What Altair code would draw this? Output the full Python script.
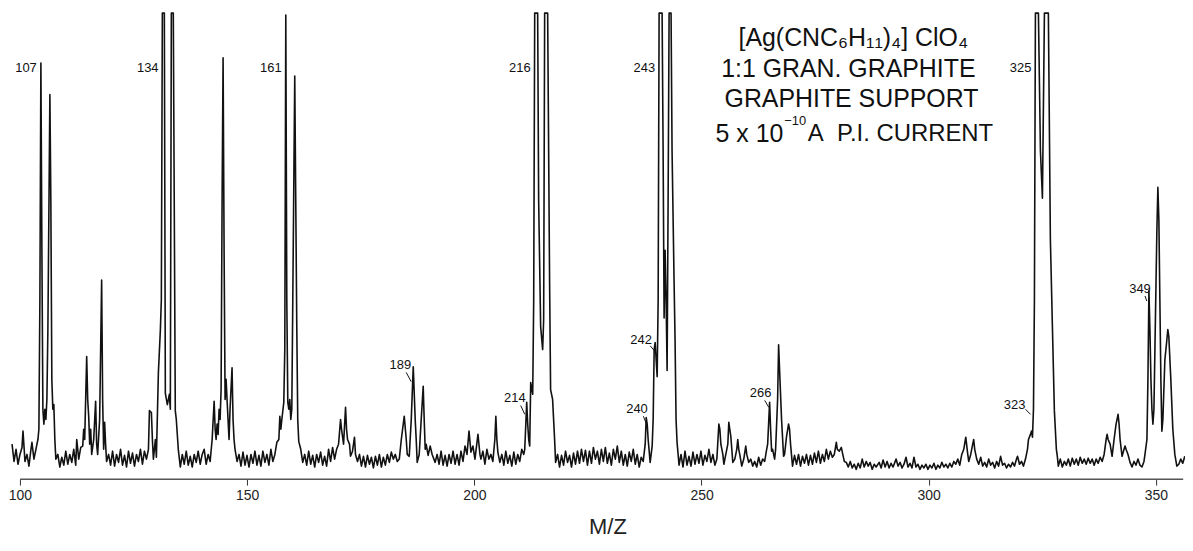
import altair as alt
import pandas as pd

# ---- spectrum trace (m/z, relative pen deflection 0-100; 100 = pen limit) ----
seg_100 = [(98.25, 7.5), (98.69, 3.8), (99.13, 6.4), (99.56, 3.2), (100.00, 5.3), (100.44, 6.8),
           (100.66, 10.3), (101.10, 3.8), (101.54, 5.3), (101.97, 2.8), (102.41, 6.4), (102.63, 7.9),
           (103.07, 4.3), (103.51, 6.4), (103.73, 7.5), (103.95, 8.5), (104.16, 10.7), (104.38, 38.5),
           (104.60, 89.3), (104.82, 49.1), (105.04, 15.0), (105.26, 11.8), (105.48, 15.0), (105.70, 12.8),
           (105.92, 17.1), (106.14, 32.1), (106.58, 82.5), (106.79, 59.8), (107.01, 21.4), (107.23, 15.0),
           (107.45, 16.0), (107.67, 8.5), (107.89, 4.3)]
seg_108 = [(108.33, 5.3), (108.77, 2.6), (109.20, 4.7), (109.64, 3.0), (110.08, 6.0), (110.52, 3.2),
           (110.96, 5.3), (111.40, 3.6), (111.83, 6.4), (112.27, 3.0), (112.49, 8.5), (112.93, 4.3),
           (113.37, 6.8), (113.81, 7.1), (114.02, 10.7), (114.24, 8.5), (114.68, 26.3), (114.90, 17.1),
           (115.12, 13.5), (115.34, 7.5), (115.56, 10.7), (115.78, 5.3), (116.22, 8.5), (116.65, 16.7),
           (116.87, 7.5), (117.09, 5.3), (117.53, 12.8), (117.97, 42.7), (118.19, 17.1), (118.41, 6.4),
           (118.63, 12.2), (118.84, 7.5), (119.06, 3.8)]
seg_119 = [(119.50, 5.3), (119.94, 3.0), (120.38, 6.0), (120.82, 2.8), (121.25, 5.3), (121.69, 3.6),
           (122.13, 6.4), (122.57, 3.0), (123.01, 5.1), (123.45, 2.6), (123.88, 6.0), (124.32, 3.4),
           (124.76, 5.6), (125.20, 2.8), (125.64, 5.3), (126.07, 3.8), (126.51, 6.4), (126.95, 3.2),
           (127.39, 6.0), (127.83, 4.3), (128.27, 6.4), (128.49, 14.7), (128.92, 14.3), (129.14, 8.5),
           (129.36, 4.3), (129.80, 8.5), (130.02, 4.7), (130.46, 22.9), (130.90, 32.1), (131.11, 38.5),
           (131.33, 100), (131.77, 100), (131.99, 18.4), (132.43, 16.0), (132.87, 18.2), (133.09, 15.0),
           (133.31, 100), (133.74, 100), (134.18, 14.7), (134.40, 12.8), (134.84, 6.4), (135.28, 2.6)]
seg_135 = [(135.72, 5.3), (136.15, 3.2), (136.59, 6.0), (137.03, 3.0), (137.47, 4.9), (137.91, 2.6),
           (138.34, 5.3), (138.78, 3.6), (139.22, 6.0), (139.66, 3.2), (140.10, 5.3), (140.54, 6.4),
           (140.97, 3.2), (141.41, 5.3), (141.85, 3.8), (142.29, 8.5), (142.73, 16.7), (142.95, 10.7),
           (143.16, 8.5), (143.38, 11.8), (143.60, 9.6), (143.82, 15.0), (144.04, 12.8), (144.26, 19.2),
           (144.48, 59.8), (144.70, 90.4), (144.92, 49.1), (145.14, 17.1), (145.36, 21.4), (145.57, 17.1),
           (145.79, 12.8), (146.01, 8.5), (146.23, 15.0), (146.67, 23.9), (146.89, 12.8), (147.11, 8.5),
           (147.33, 6.4), (147.77, 3.8)]
seg_148 = [(148.20, 5.3), (148.64, 2.8), (149.08, 5.8), (149.52, 3.0), (149.96, 5.1), (150.40, 2.6),
           (150.83, 5.3), (151.27, 3.4), (151.71, 6.0), (152.15, 3.0), (152.59, 5.1), (153.02, 2.8),
           (153.46, 6.0), (153.90, 3.6), (154.34, 5.3), (154.78, 3.0), (155.22, 6.4), (155.65, 3.8),
           (156.09, 5.3), (156.53, 7.9), (156.97, 8.5), (157.19, 13.5), (157.41, 10.7), (157.63, 12.8),
           (158.06, 16.5), (158.28, 27.8), (158.50, 99.6), (158.72, 38.5), (158.94, 16.5), (159.16, 15.0),
           (159.38, 17.1), (159.60, 12.8), (159.82, 15.0), (160.04, 38.5), (160.47, 86.5), (160.69, 59.8),
           (160.91, 33.5), (161.13, 12.8), (161.35, 8.1), (161.79, 6.4), (162.23, 3.6)]
seg_162 = [(162.66, 5.3), (163.10, 3.0), (163.54, 6.0), (163.98, 3.2), (164.42, 5.1), (164.86, 2.6),
           (165.29, 5.3), (165.73, 3.6), (166.17, 5.8), (166.61, 3.0), (167.05, 4.9), (167.48, 2.8),
           (167.92, 6.4), (168.36, 3.8), (168.80, 6.8), (169.24, 4.3), (169.68, 6.4), (170.11, 7.5),
           (170.55, 12.8), (170.77, 10.7), (171.21, 7.5), (171.65, 15.4), (171.87, 10.7), (172.09, 8.5),
           (172.52, 7.5), (172.74, 4.9), (173.18, 6.0), (173.62, 9.0), (173.84, 5.3), (174.28, 3.8)]
seg_174 = [(174.72, 5.3), (175.15, 2.8), (175.59, 4.9), (176.03, 2.6), (176.47, 5.1), (176.91, 3.2),
           (177.34, 4.7), (177.78, 2.4), (178.22, 4.9), (178.66, 3.0), (179.10, 5.3), (179.54, 2.6),
           (179.97, 4.7), (180.41, 3.0), (180.85, 5.3), (181.29, 3.6), (181.73, 5.8), (182.16, 4.3),
           (182.60, 5.3), (183.04, 3.8), (183.48, 4.3), (183.92, 8.5), (184.57, 13.5), (185.01, 8.5),
           (185.23, 5.3), (185.67, 4.9), (186.11, 12.8), (186.55, 24.1), (186.98, 12.8), (187.20, 8.5),
           (187.42, 3.6), (187.86, 5.3), (188.30, 12.8), (188.74, 19.9), (188.96, 12.8), (189.18, 6.4),
           (189.39, 7.5), (189.83, 5.1), (190.27, 7.1), (190.71, 5.3), (191.37, 3.6)]
seg_191 = [(191.80, 5.3), (192.24, 3.2), (192.68, 6.0), (193.12, 3.0), (193.56, 5.1), (194.00, 2.8),
           (194.43, 5.3), (194.87, 3.4), (195.31, 6.0), (195.75, 3.2), (196.19, 5.3), (196.63, 3.0),
           (197.06, 6.0), (197.50, 3.8), (197.94, 7.1), (198.38, 5.3), (198.82, 10.3), (199.25, 5.8),
           (199.69, 7.1), (200.13, 4.3), (200.79, 9.6), (201.23, 5.3), (201.45, 4.3), (201.88, 6.0),
           (202.32, 3.2), (202.76, 6.4), (203.20, 4.3), (203.64, 5.3), (204.07, 3.8), (204.51, 8.5),
           (204.73, 13.5), (204.95, 8.5), (205.17, 5.8), (205.61, 3.6), (206.05, 5.3), (206.48, 3.0),
           (206.92, 6.0), (207.36, 3.4)]
seg_207 = [(207.80, 5.1), (208.24, 2.8), (208.68, 5.8), (209.11, 3.2), (209.55, 5.3), (209.99, 3.8),
           (210.43, 6.4), (210.87, 5.3), (211.09, 6.4), (211.30, 11.3), (211.52, 16.5), (211.74, 11.8),
           (211.96, 8.5), (212.18, 7.1), (212.40, 20.7), (212.84, 18.2), (213.06, 38.5), (213.28, 100),
           (213.93, 100), (214.15, 59.8), (214.59, 32.7), (215.03, 27.8), (215.25, 34.2), (215.47, 100),
           (216.13, 100), (216.56, 42.1), (216.78, 19.2), (217.22, 17.1), (217.66, 8.5), (217.88, 3.6)]
seg_218 = [(218.32, 5.3), (218.75, 2.6), (219.19, 5.1), (219.63, 3.0), (220.07, 6.0), (220.51, 3.6),
           (220.95, 5.1), (221.38, 2.6), (221.82, 5.6), (222.26, 3.2), (222.70, 6.0), (223.14, 3.4),
           (223.57, 6.4), (224.01, 3.8), (224.45, 6.2), (224.89, 3.0), (225.33, 6.0), (225.77, 3.4),
           (226.20, 6.8), (226.64, 4.3), (227.08, 6.0), (227.52, 3.2), (227.96, 6.4), (228.39, 3.8),
           (228.83, 6.8), (229.27, 3.4), (229.71, 5.6), (230.15, 3.0), (230.59, 6.4), (231.02, 4.3),
           (231.46, 7.1), (231.90, 3.6), (232.34, 6.0), (232.78, 3.0), (233.21, 5.3), (233.65, 2.8),
           (234.09, 5.8), (234.53, 3.8), (234.97, 6.4), (235.41, 3.2), (235.84, 5.3), (236.28, 2.6),
           (236.72, 4.7), (237.16, 3.8)]
seg_237 = [(237.60, 7.5), (237.82, 13.2), (238.04, 11.8), (238.25, 8.5), (238.69, 3.6), (239.13, 7.1),
           (239.35, 12.8), (239.57, 27.8), (239.79, 29.3), (240.01, 25.6), (240.23, 22.0), (240.45, 38.5),
           (240.66, 100), (241.32, 100), (241.54, 70.5), (241.76, 34.6), (241.98, 49.1), (242.20, 38.5),
           (242.42, 23.3), (242.64, 59.8), (242.86, 100), (243.29, 100), (243.51, 70.5), (243.95, 42.7),
           (244.17, 29.9), (244.39, 12.8), (244.61, 7.9), (245.05, 3.0)]
seg_245 = [(245.48, 5.3), (245.92, 2.6), (246.36, 6.0), (246.80, 3.0), (247.24, 4.9), (247.68, 2.8),
           (248.11, 5.8), (248.55, 3.2), (248.99, 5.3), (249.43, 3.4), (249.87, 6.0), (250.30, 3.0),
           (250.74, 5.1), (251.18, 3.8), (251.62, 6.4), (252.06, 3.6), (252.50, 5.3), (252.93, 3.0),
           (253.37, 4.3), (253.81, 11.8), (254.03, 10.7), (254.25, 7.5), (254.69, 5.3), (254.91, 3.2),
           (255.34, 5.3), (255.78, 7.5), (256.00, 12.2), (256.22, 10.7), (256.44, 9.2), (256.88, 3.6),
           (257.32, 4.3), (257.75, 6.4), (257.97, 8.5), (258.19, 6.4), (258.41, 5.3), (258.85, 2.8),
           (259.29, 4.3), (259.73, 7.1), (259.95, 5.3), (260.38, 3.6), (260.82, 4.3), (261.26, 2.8),
           (261.70, 3.8), (262.14, 2.6), (262.57, 4.7), (263.01, 3.0), (263.45, 4.3), (263.89, 3.8),
           (264.33, 6.4), (264.55, 7.5), (264.98, 16.5), (265.20, 10.7), (265.42, 6.0), (265.64, 6.4),
           (266.08, 4.3), (266.30, 6.4), (266.74, 17.1), (266.96, 28.8), (267.17, 23.5), (267.61, 12.8),
           (268.05, 4.9), (268.27, 5.3), (268.71, 9.2), (269.15, 11.8), (269.37, 10.7), (269.59, 7.5),
           (270.02, 2.8)]
seg_270 = [(270.46, 5.1), (270.90, 3.2), (271.34, 5.3), (271.78, 2.8), (272.21, 4.9), (272.65, 3.4),
           (273.09, 5.3), (273.53, 3.0), (273.97, 5.1), (274.41, 3.2), (274.84, 5.6), (275.28, 3.6),
           (275.72, 6.0), (276.16, 3.4), (276.60, 5.3), (277.03, 3.8), (277.47, 6.4), (277.91, 4.3),
           (278.35, 6.0), (278.79, 4.7), (279.22, 5.3), (279.66, 7.9), (279.88, 6.4), (280.32, 6.0),
           (280.76, 6.8), (280.98, 5.8), (281.42, 3.8)]
seg_281 = [(281.86, 3.6), (282.29, 2.6), (282.73, 3.8), (283.17, 2.4), (283.61, 3.2), (284.05, 2.1),
           (284.48, 3.4), (284.92, 2.4), (285.36, 4.3), (285.80, 2.6), (286.24, 3.8), (286.68, 2.8),
           (287.11, 3.6), (287.55, 2.1), (287.99, 3.2), (288.43, 2.6), (289.09, 3.6), (289.52, 2.4),
           (289.96, 4.1), (290.40, 2.6), (290.84, 3.8), (291.28, 2.4), (291.71, 3.4), (292.15, 2.6),
           (292.81, 4.3), (293.25, 2.8), (293.69, 3.6), (294.12, 2.4), (294.56, 3.2), (295.00, 4.7),
           (295.44, 2.6), (295.88, 3.4), (296.32, 2.4), (296.75, 4.7), (297.19, 2.6), (297.63, 3.2),
           (298.07, 2.1), (298.51, 3.0), (298.94, 2.4), (299.38, 3.2), (299.82, 2.1), (300.26, 3.0),
           (300.70, 2.4), (301.14, 3.4), (301.57, 2.1), (302.01, 3.0), (302.45, 2.4), (302.89, 3.6),
           (303.33, 2.6), (303.77, 3.2), (304.20, 2.4), (304.64, 3.4), (305.08, 2.6), (305.52, 3.8),
           (305.96, 3.2), (306.39, 4.3), (306.83, 3.0), (307.27, 5.3), (307.71, 6.4), (308.15, 9.0),
           (308.59, 5.3), (308.80, 3.8), (309.24, 5.3), (309.68, 7.5), (309.90, 8.5), (310.12, 6.4),
           (310.56, 4.3), (311.00, 3.2), (311.44, 4.7), (311.87, 2.8), (312.31, 3.6), (312.75, 2.6),
           (313.19, 4.3), (313.63, 3.0), (314.06, 3.6), (314.50, 2.4), (314.94, 3.8), (315.38, 2.8),
           (315.82, 4.9), (316.25, 3.0), (316.69, 3.4), (317.13, 2.4), (317.57, 3.2), (318.01, 2.6),
           (318.45, 3.6), (318.88, 2.8), (319.32, 4.3), (319.54, 4.9), (319.98, 3.2), (320.42, 3.8),
           (320.85, 2.8), (321.29, 4.3)]
seg_321 = [(321.73, 6.4), (321.95, 8.5), (322.39, 9.6), (322.61, 10.3), (322.83, 9.0), (323.05, 15.0),
           (323.26, 38.5), (323.48, 100), (324.14, 100), (324.58, 70.5), (325.02, 60.3), (325.24, 80.0),
           (325.46, 100), (326.33, 100), (326.77, 51.5), (327.21, 33.1), (327.65, 14.7), (328.09, 6.4),
           (328.30, 4.9), (328.52, 2.8)]
seg_329 = [(328.96, 4.3), (329.40, 2.6), (329.84, 3.8), (330.28, 3.0), (330.71, 4.3), (331.15, 2.8),
           (331.59, 4.5), (332.03, 3.2), (332.47, 4.3), (332.91, 3.0), (333.34, 4.7), (333.78, 3.4),
           (334.22, 4.3), (334.66, 3.2), (335.10, 4.5), (335.53, 3.4), (335.97, 4.3), (336.41, 3.0),
           (336.85, 4.3), (337.29, 3.4), (337.73, 4.7), (338.16, 3.8), (338.60, 5.3), (339.04, 8.5),
           (339.26, 9.6), (339.48, 8.5), (339.92, 7.5), (340.35, 4.9), (340.79, 8.5), (341.23, 11.8),
           (341.67, 13.9), (341.89, 11.8), (342.11, 8.5), (342.55, 4.9), (342.98, 6.4), (343.20, 7.1),
           (343.42, 6.4), (343.86, 5.3), (344.30, 3.6), (344.74, 2.6), (345.17, 3.8), (345.61, 3.0),
           (346.05, 4.3), (346.49, 3.0), (346.93, 2.6), (347.37, 3.8)]
seg_347 = [(347.59, 5.3), (348.02, 8.5), (348.24, 21.4), (348.46, 40.4), (348.68, 32.1), (348.90, 21.4),
           (349.12, 15.0), (349.34, 11.8), (349.56, 15.0), (349.78, 27.8), (350.21, 53.4), (350.43, 62.6),
           (350.65, 55.6), (350.87, 38.5), (351.09, 21.4), (351.31, 10.3), (351.53, 12.8), (351.97, 25.6),
           (352.41, 29.9), (352.62, 32.1), (352.84, 30.6), (353.28, 21.4), (353.72, 10.7), (354.16, 5.3),
           (354.60, 2.8), (355.03, 3.2), (355.47, 4.3), (355.91, 3.4), (356.35, 4.9)]

trace = (seg_100 + seg_108 + seg_119 + seg_135 + seg_148 + seg_162 + seg_174 + seg_191 +
         seg_207 + seg_218 + seg_237 + seg_245 + seg_270 + seg_281 + seg_321 + seg_329 + seg_347)
spectrum = pd.DataFrame(trace, columns=["mz", "intensity"])

# ---- axis ----
tick_values = [100, 150, 200, 250, 300, 350]
axis_start = [100.0]
axis_end = [356.0]

# ---- peak labels ----
top_labels = ["107", "134", "161", "216", "243", "325"]
top_label_mz = [103.7, 130.5, 157.6, 212.4, 239.8, 322.6]
top_label_int = [88.2, 88.2, 88.2, 88.2, 88.2, 88.2]

low_labels = ["189", "214", "240", "242", "266", "323", "349"]
low_label_mz = [183.7, 208.9, 235.8, 236.7, 263.0, 318.9, 346.5]
low_label_int = [24.4, 17.5, 15.0, 29.9, 18.4, 16.0, 40.8]

leader_mz1 = [185.0, 210.2, 237.2, 238.7, 263.9, 321.3, 347.6]
leader_mz2 = [186.1, 211.1, 237.8, 239.6, 264.8, 322.4, 348.0]
leader_int1 = [22.9, 15.8, 13.5, 28.6, 16.9, 15.0, 39.3]
leader_int2 = [20.9, 13.9, 12.0, 27.6, 15.4, 13.9, 38.2]

# ---- info block (centered lines) ----
info_lines = ["[Ag(CNC₆H₁₁)₄] ClO₄", "1:1 GRAN. GRAPHITE", "GRAPHITE SUPPORT"]
info_mz = [283.4, 282.3, 283.0]
info_int = [94.7, 88.0, 81.6]
# last line in pieces, so the exponent can be raised
cur_left_text = ["5 x 10"]
cur_left_mz = [268.0]
cur_exp_text = ["−10"]
cur_exp_mz = [268.2]
cur_exp_int = [76.8]
cur_right_text = ["A\u00a0\u00a0P.I. CURRENT"]
cur_right_mz = [273.4]
cur_int = [74.0]

FONT = "Liberation Sans"
xscale = alt.Scale(domain=[97.8, 356.4], nice=False, zero=False)
yscale = alt.Scale(domain=[0, 100], nice=False, zero=False)
x_axis = alt.Axis(values=tick_values, domain=False, grid=False, ticks=True, tickSize=6,
                  tickColor="#333333", tickWidth=1, labelFontSize=14, labelFont=FONT,
                  labelColor="#222222", labelPadding=3, title="M/Z", titleFont=FONT,
                  titleFontSize=22, titleFontWeight="normal", titleColor="#222222",
                  titleX=600, titleY=55, titleBaseline="alphabetic", titleAlign="center")


def X(field):
    return alt.X(field, scale=xscale, axis=x_axis, title="M/Z")


def Y(field):
    return alt.Y(field, scale=yscale, axis=None)


line = alt.Chart(spectrum).mark_line(color="#111111", strokeWidth=1.6, strokeJoin="round").encode(
    x=X("mz:Q"), y=Y("intensity:Q"))

axis_rule = alt.Chart(pd.DataFrame({"mz": axis_start, "b": axis_end, "intensity": [0.0]})).mark_rule(
    color="#555555", strokeWidth=1.5).encode(x=X("mz:Q"), x2="b:Q", y=Y("intensity:Q"))

top_text = alt.Chart(pd.DataFrame({"t": top_labels, "mz": top_label_mz, "intensity": top_label_int})).mark_text(
    align="right", baseline="middle", font=FONT, fontSize=13, color="#111111").encode(
    x=X("mz:Q"), y=Y("intensity:Q"), text="t:N")

low_text = alt.Chart(pd.DataFrame({"t": low_labels, "mz": low_label_mz, "intensity": low_label_int})).mark_text(
    align="center", baseline="middle", font=FONT, fontSize=13, color="#111111").encode(
    x=X("mz:Q"), y=Y("intensity:Q"), text="t:N")

leaders = alt.Chart(pd.DataFrame({"mz": leader_mz1, "m2": leader_mz2, "intensity": leader_int1,
                                  "i2": leader_int2})).mark_rule(color="#111111", strokeWidth=1).encode(
    x=X("mz:Q"), x2="m2:Q", y=Y("intensity:Q"), y2="i2:Q")

info = alt.Chart(pd.DataFrame({"t": info_lines, "mz": info_mz, "intensity": info_int})).mark_text(
    align="center", baseline="middle", font=FONT, fontSize=25, color="#111111").encode(
    x=X("mz:Q"), y=Y("intensity:Q"), text="t:N")

cur_left = alt.Chart(pd.DataFrame({"t": cur_left_text, "mz": cur_left_mz, "intensity": cur_int})).mark_text(
    align="right", baseline="middle", font=FONT, fontSize=25, color="#111111").encode(
    x=X("mz:Q"), y=Y("intensity:Q"), text="t:N")

cur_exp = alt.Chart(pd.DataFrame({"t": cur_exp_text, "mz": cur_exp_mz, "intensity": cur_exp_int})).mark_text(
    align="left", baseline="middle", font=FONT, fontSize=13, color="#111111").encode(
    x=X("mz:Q"), y=Y("intensity:Q"), text="t:N")

cur_right = alt.Chart(pd.DataFrame({"t": cur_right_text, "mz": cur_right_mz, "intensity": cur_int})).mark_text(
    align="left", baseline="middle", font=FONT, fontSize=24, color="#111111").encode(
    x=X("mz:Q"), y=Y("intensity:Q"), text="t:N")

chart = alt.layer(line, axis_rule, leaders, top_text, low_text, info, cur_left, cur_exp, cur_right).properties(
    width=1180, height=468,
    autosize=alt.AutoSizeParams(type="none"),
    padding={"left": 2, "top": 4, "right": 0, "bottom": 62},
    background="white",
).configure_view(stroke=None)

chart.save("out.html", embed_options={"renderer": "svg", "actions": False})
